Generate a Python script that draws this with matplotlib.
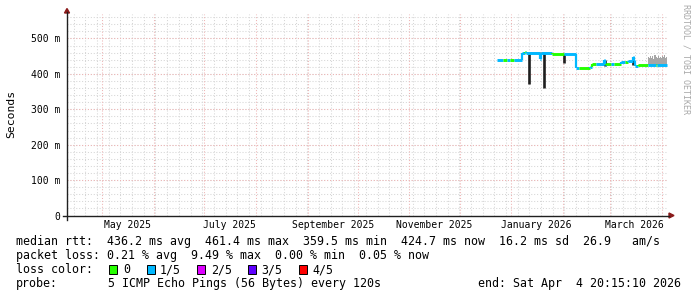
import matplotlib
matplotlib.use('Agg')
import matplotlib.pyplot as plt
from matplotlib.lines import Line2D
from matplotlib.patches import Polygon, Rectangle
import pandas as pd

W, H, DPI = 697, 297, 100
MONO = 'DejaVu Sans Mono'

# ---------------- data ----------------
start_time = pd.Timestamp('2025-04-09 20:15:10')
end_time = pd.Timestamp('2026-04-04 20:15:10')

seg_start = pd.to_datetime([
    '2025-12-23 05:00', '2025-12-26 18:00', '2025-12-29 06:00', '2025-12-31 00:00',
    '2026-01-02 12:00', '2026-01-07 05:00', '2026-01-09 00:00', '2026-01-10 00:00',
    '2026-01-18 00:00', '2026-01-18 18:00', '2026-01-25 10:00', '2026-02-01 18:00',
    '2026-02-08 22:00', '2026-02-10 12:00', '2026-02-17 00:00', '2026-02-18 05:00',
    '2026-02-21 00:00', '2026-02-25 12:00', '2026-02-26 00:00', '2026-02-26 12:00',
    '2026-03-02 00:00', '2026-03-03 12:00', '2026-03-07 14:00', '2026-03-10 00:00',
    '2026-03-12 00:00', '2026-03-14 18:00', '2026-03-15 06:00', '2026-03-16 00:00',
    '2026-03-17 18:00', '2026-03-23 20:00', '2026-03-28 12:00', '2026-03-29 12:00',
])
seg_value = [439, 438, 439, 438, 439, 460, 461, 460,
             442, 459, 455, 457, 418, 418, 419, 427,
             427, 439, 424, 427, 427, 427, 435, 435,
             436, 448, 437, 423, 426, 425, 425, 425]
seg_loss = [1, 0, 1, 0, 1, 1, 0, 1,
            1, 1, 0, 1, 1, 0, 1, 0,
            1, 1, 1, 0, 1, 0, 1, 0,
            1, 1, 1, 1, 0, 1, 0, 1]
data_end = pd.Timestamp('2026-04-04 12:00')

spike_dates = pd.to_datetime(['2026-01-11 14:00', '2026-01-20 14:00', '2026-02-01 14:00',
                              '2026-02-25 20:00', '2026-03-15 00:00'])
spike_top = [460, 459, 455, 439, 448]
spike_bottom = [371, 359.5, 432, 423, 424]

smoke_a_dates = pd.to_datetime(['2026-01-08 00:00', '2026-01-25 10:00'])
smoke_a_low = [459, 459]
smoke_a_high = [463, 463]

smoke_b_dates = pd.date_range('2026-03-23 20:00', '2026-04-04 12:00', periods=19)
smoke_b_low = [426] * 19
smoke_b_high = [449, 444, 451, 446, 450, 443, 452, 447, 445, 451,
                446, 449, 444, 450, 447, 452, 445, 448, 448]

y_ticks = [0, 100, 200, 300, 400, 500]
y_labels = ['0', '100 m', '200 m', '300 m', '400 m', '500 m']
x_tick_dates = pd.to_datetime(['2025-05-16', '2025-07-16', '2025-09-16',
                               '2025-11-16', '2026-01-16', '2026-03-16'])
x_tick_labels = ['May 2025', 'July 2025', 'September 2025',
                 'November 2025', 'January 2026', 'March 2026']
loss_labels = ['0', '1/5', '2/5', '3/5', '4/5']
loss_colors = ['#26ff00', '#00b8ff', '#dd00ff', '#5e00ff', '#ff0000']

stats_line1 = 'median rtt:  436.2 ms avg  461.4 ms max  359.5 ms min  424.7 ms now  16.2 ms sd  26.9   am/s'
stats_line2 = 'packet loss: 0.21 % avg  9.49 % max  0.00 % min  0.05 % now'
probe_text = '5 ICMP Echo Pings (56 Bytes) every 120s'
end_text = 'end: Sat Apr  4 20:15:10 2026'

# ---------------- layout ----------------
def fx(x):
    return x / W

def fy(y):
    return 1 - y / H

PL, PR, PT, PB = 67, 668, 14, 215.5
fig = plt.figure(figsize=(W / DPI, H / DPI), dpi=DPI)
fig.patch.set_facecolor('white')
ax = fig.add_axes([fx(PL), fy(PB), (PR - PL) / W, (PB - PT) / H])
ax.set_xlim(start_time, end_time)
ax.set_ylim(0, (PB - PT) / 0.354)
for s in ax.spines.values():
    s.set_visible(False)

minor_col = '#d6d6d6'
major_col = '#eeb4b4'
dot = (0, (1, 1.8))

# grid
for d in pd.date_range(start_time, end_time, freq='W-SUN'):
    ax.axvline(d, color=minor_col, lw=0.75, ls=dot, zorder=1)
for v in range(20, 580, 20):
    ax.axhline(v, color=minor_col, lw=0.75, ls=dot, zorder=1)
for d in pd.date_range('2025-05-01', '2026-04-01', freq='MS'):
    ax.axvline(d, color=major_col, lw=0.75, ls=dot, zorder=2)
for v in y_ticks[1:]:
    ax.axhline(v, color=major_col, lw=0.75, ls=dot, zorder=2)

# smoke
ax.fill_between(smoke_a_dates, smoke_a_low, smoke_a_high, step='post', color='#a6a6a6', lw=0, zorder=3)
ax.fill_between(smoke_b_dates, smoke_b_low, smoke_b_high, step='post', color='#a6a6a6', lw=0, zorder=3)

# spikes
ax.vlines(spike_dates, spike_bottom, spike_top, color='#1e1e1e', lw=1.9, zorder=4)

# median line coloured by loss
line_cols = [loss_colors[l] for l in seg_loss]
ends = list(seg_start[1:]) + [data_end]
for i in range(len(seg_start)):
    c = line_cols[i]
    ax.plot([seg_start[i], ends[i]], [seg_value[i], seg_value[i]], color=c, lw=2.1,
            solid_capstyle='butt', zorder=5)
    if i > 0 and seg_value[i] != seg_value[i - 1]:
        ax.plot([seg_start[i], seg_start[i]], [seg_value[i - 1], seg_value[i]], color=c,
                lw=1.6, solid_capstyle='butt', zorder=5)

# ticks
ax.set_yticks(y_ticks)
ax.set_yticklabels(y_labels, family=MONO, fontsize=7)
ax.set_xticks(x_tick_dates)
ax.set_xticklabels(x_tick_labels, family=MONO, fontsize=7)
ax.tick_params(axis='y', length=0, pad=5)
ax.tick_params(axis='x', length=0, pad=3.3)

# axes lines & arrows
fig.add_artist(Line2D([fx(63), fx(669)], [fy(PB), fy(PB)], color='#202020', lw=1.0))
fig.add_artist(Line2D([fx(PL), fx(PL)], [fy(219.5), fy(12)], color='#202020', lw=1.0))
fig.add_artist(Polygon([[fx(64.5), fy(13)], [fx(69.5), fy(13)], [fx(67), fy(8.5)]],
                       closed=True, color='#8b1a1a', transform=fig.transFigure))
fig.add_artist(Polygon([[fx(669), fy(213)], [fx(669), fy(218)], [fx(674), fy(215.5)]],
                       closed=True, color='#8b1a1a', transform=fig.transFigure))

# labels
fig.text(fx(11), fy(114), 'Seconds', rotation=90, family=MONO, fontsize=8.2,
         ha='center', va='center')
fig.text(fx(686), fy(59), 'RRDTOOL / TOBI OETIKER', rotation=270, family=MONO,
         fontsize=6.0, color='#a8a8a8', ha='center', va='center')

FS = 8.4
fig.text(fx(16), fy(245.5), stats_line1, family=MONO, fontsize=FS, va='baseline')
fig.text(fx(16), fy(259.5), stats_line2, family=MONO, fontsize=FS, va='baseline')
fig.text(fx(16), fy(273.3), 'loss color:', family=MONO, fontsize=FS, va='baseline')
box_x = [109, 147, 197, 248, 299]
lab_x = [123.6, 160, 210.7, 261, 312.4]
for bx, lx, lab, col in zip(box_x, lab_x, loss_labels, loss_colors):
    fig.add_artist(Rectangle((fx(bx), fy(273.5)), 8 / W, 9 / H, facecolor=col,
                             edgecolor='black', lw=0.7, transform=fig.transFigure))
    fig.text(fx(lx), fy(273.3), lab, family=MONO, fontsize=FS, va='baseline')
fig.text(fx(16), fy(287.3), 'probe:', family=MONO, fontsize=FS, va='baseline')
fig.text(fx(107.6), fy(287.3), probe_text, family=MONO, fontsize=FS, va='baseline')
fig.text(fx(681), fy(287.3), end_text, family=MONO, fontsize=FS, va='baseline', ha='right')

fig.savefig('out.png', dpi=DPI, facecolor='white')
